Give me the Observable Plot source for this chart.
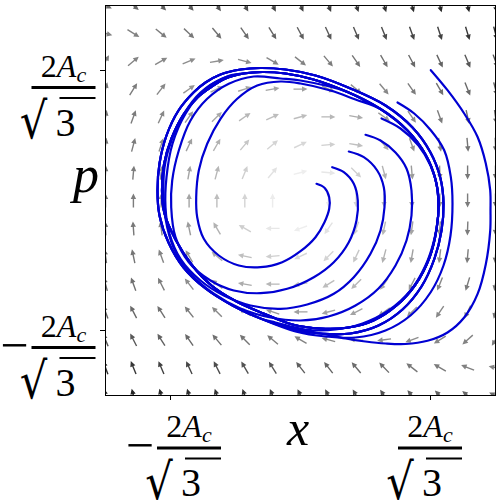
<!DOCTYPE html>
<html><head><meta charset="utf-8">
<script src="https://cdn.jsdelivr.net/npm/d3@7"></script>
<script src="https://cdn.jsdelivr.net/npm/@observablehq/plot@0.6"></script>
<style>body{margin:0;background:#fff} svg{display:block}</style>
</head><body><div id="chart"></div>
<script>
// Axis ticks (in units where the tick 2A_c/sqrt(3) sits at 1.3)
const xTicks = [-1.3, 1.3];
const pTicks = [-1.3, 1.3];
const xTickNeg = [true, false];

// Vector field grid
const gridX = [-1.95,-1.671,-1.393,-1.114,-0.836,-0.557,-0.279,0,0.279,0.557,0.836,1.114,1.393,1.671,1.95];
const gridP = [1.95,1.671,1.393,1.114,0.836,0.557,0.279,0,-0.279,-0.557,-0.836,-1.114,-1.393,-1.671,-1.95];

// Arrow directions (degrees clockwise from up), rows top -> bottom
const arrowAngle = [
  [115,130,135,140,145,150,152,155,157,160,162,163,165,166,167],
  [105,122,129,133,140,145,148,152,155,157,158,160,162,163,165],
  [30,50,60,67,80,105,120,128,140,145,150,152,155,157,160],
  [15,32,38,55,65,72,80,90,115,130,140,145,150,158,165],
  [10,20,25,35,45,55,65,75,90,100,125,145,160,168,172],
  [8,15,18,25,30,40,50,65,85,100,140,160,170,175,178],
  [3,5,8,10,15,22,40,75,95,135,165,175,178,180,180],
  [0,0,0,0,0,0,0,null,180,180,180,180,180,180,180],
  [358,356,352,348,330,300,270,250,215,200,192,188,185,182,181],
  [352,348,340,330,310,282,265,245,225,205,195,190,187,185,184],
  [345,340,333,322,308,280,270,260,238,225,215,207,202,197,190],
  [340,333,327,322,315,302,288,270,255,243,235,225,214,206,195],
  [338,333,328,325,320,315,310,300,285,275,262,250,238,228,212],
  [340,338,337,335,333,330,328,322,322,320,316,308,300,292,282],
  [347,346,345,343,342,340,337,335,332,330,325,320,315,310,295]
];
// Arrow shade (relative field strength), rows top -> bottom
const arrowShade = [
  [0.62,0.64,0.66,0.68,0.72,0.74,0.77,0.80,0.82,0.84,0.86,0.88,0.90,0.92,0.92],
  [0.52,0.53,0.55,0.57,0.60,0.62,0.65,0.68,0.70,0.72,0.75,0.78,0.80,0.84,0.87],
  [0.55,0.52,0.50,0.48,0.47,0.47,0.50,0.52,0.55,0.58,0.60,0.63,0.66,0.70,0.72],
  [0.58,0.55,0.50,0.45,0.40,0.38,0.38,0.40,0.43,0.47,0.50,0.55,0.60,0.63,0.66],
  [0.60,0.55,0.50,0.43,0.36,0.30,0.28,0.28,0.30,0.35,0.42,0.48,0.55,0.60,0.63],
  [0.60,0.55,0.48,0.40,0.32,0.24,0.18,0.17,0.20,0.27,0.35,0.45,0.52,0.58,0.62],
  [0.60,0.55,0.47,0.38,0.30,0.20,0.12,0.07,0.10,0.20,0.32,0.42,0.50,0.57,0.62],
  [0.60,0.55,0.47,0.38,0.28,0.18,0.08,0.00,0.08,0.18,0.28,0.38,0.47,0.55,0.60],
  [0.62,0.57,0.50,0.42,0.32,0.20,0.10,0.07,0.12,0.20,0.30,0.38,0.47,0.55,0.60],
  [0.62,0.58,0.52,0.45,0.35,0.27,0.20,0.17,0.18,0.24,0.32,0.40,0.48,0.55,0.60],
  [0.63,0.60,0.55,0.48,0.42,0.35,0.30,0.28,0.28,0.30,0.36,0.43,0.50,0.55,0.60],
  [0.66,0.63,0.60,0.55,0.50,0.47,0.43,0.40,0.38,0.38,0.40,0.45,0.50,0.55,0.58],
  [0.72,0.70,0.66,0.63,0.60,0.58,0.55,0.52,0.50,0.47,0.47,0.48,0.50,0.52,0.55],
  [0.87,0.84,0.80,0.78,0.75,0.72,0.70,0.68,0.65,0.62,0.60,0.57,0.55,0.53,0.52],
  [0.92,0.92,0.90,0.88,0.86,0.84,0.82,0.80,0.77,0.74,0.72,0.68,0.66,0.64,0.62]
];

// Limit-cycle band: inner and outer edge, clockwise from the upper left
const cycleInner = [[-0.90,1.13],[-0.75,1.22],[-0.57,1.27],[-0.38,1.285],[-0.15,1.27],[0.13,1.21],[0.47,1.085],[0.80,0.915],[1.07,0.70],[1.25,0.46],[1.35,0.21],[1.38,-0.03],[1.36,-0.29],[1.29,-0.57],[1.15,-0.84],[0.96,-1.05],[0.73,-1.20],[0.48,-1.27],[0.20,-1.28],[-0.08,-1.24],[-0.37,-1.13],[-0.64,-1.01],[-0.89,-0.85],[-1.09,-0.64],[-1.25,-0.39],[-1.36,-0.13],[-1.385,0.10],[-1.365,0.36],[-1.29,0.62],[-1.17,0.86],[-1.03,1.03]];
const cycleOuter = [[-0.95,1.18],[-0.80,1.26],[-0.60,1.31],[-0.40,1.325],[-0.15,1.31],[0.15,1.25],[0.50,1.12],[0.85,0.95],[1.12,0.73],[1.30,0.48],[1.40,0.22],[1.43,-0.03],[1.41,-0.30],[1.34,-0.58],[1.21,-0.86],[1.02,-1.09],[0.78,-1.25],[0.50,-1.33],[0.20,-1.33],[-0.10,-1.28],[-0.40,-1.18],[-0.68,-1.05],[-0.95,-0.88],[-1.17,-0.67],[-1.32,-0.42],[-1.41,-0.15],[-1.43,0.10],[-1.41,0.37],[-1.34,0.65],[-1.22,0.90],[-1.07,1.08]];

// Trajectories before they join the band: [x, p]
const traj1 = [[0.16,0.167],[0.24,0.127],[0.287,0.033],[0.287,-0.083],[0.24,-0.217],[0.15,-0.367],[0.0,-0.507],[-0.183,-0.617],[-0.40,-0.667],[-0.617,-0.65],[-0.817,-0.55],[-0.967,-0.383],[-1.033,-0.167],[-1.043,0.033],[-1.017,0.30],[-0.933,0.567],[-0.80,0.817],[-0.633,1.017],[-0.433,1.15],[-0.20,1.19],[0.0,1.17],[0.30,1.10],[0.55,1.01]];
const traj2 = [[0.317,0.333],[0.433,0.283],[0.533,0.167],[0.573,0.0],[0.56,-0.20],[0.483,-0.417],[0.333,-0.617],[0.133,-0.767],[-0.133,-0.883],[-0.40,-0.927],[-0.667,-0.90],[-0.90,-0.80],[-1.117,-0.617],[-1.25,-0.367],[-1.293,-0.067],[-1.283,0.20],[-1.217,0.50],[-1.10,0.80],[-0.933,1.017],[-0.717,1.167],[-0.467,1.24],[-0.20,1.22],[0.0,1.20]];
const traj3 = [[0.483,0.49],[0.633,0.433],[0.767,0.30],[0.833,0.133],[0.84,-0.067],[0.80,-0.30],[0.70,-0.533],[0.533,-0.767],[0.333,-0.933],[0.067,-1.04],[-0.20,-1.083],[-0.50,-1.05],[-0.767,-0.95],[-1.0,-0.80],[-1.20,-0.583],[-1.31,-0.333],[-1.35,-0.067],[-1.34,0.233],[-1.28,0.567],[-1.15,0.867],[-0.967,1.10],[-0.733,1.24]];
const traj4 = [[0.65,0.657],[0.80,0.60],[0.95,0.48],[1.06,0.32],[1.11,0.10],[1.11,-0.15],[1.06,-0.40],[0.95,-0.65],[0.78,-0.88],[0.55,-1.05],[0.28,-1.16],[0.0,-1.20],[-0.30,-1.17],[-0.60,-1.08],[-0.87,-0.93],[-1.10,-0.73],[-1.27,-0.47],[-1.35,-0.18],[-1.37,0.07],[-1.36,0.33],[-1.29,0.60],[-1.17,0.86],[-1.0,1.08],[-0.78,1.22]];
const traj5 = [[0.81,0.82],[1.0,0.72],[1.18,0.55],[1.30,0.35],[1.37,0.12],[1.38,-0.12],[1.34,-0.38],[1.25,-0.65],[1.10,-0.90],[0.88,-1.10],[0.62,-1.23],[0.35,-1.29],[0.05,-1.29],[-0.25,-1.22]];
const traj6 = [[0.97,0.98],[1.137,0.87],[1.303,0.703],[1.437,0.503],[1.503,0.237],[1.52,-0.03],[1.50,-0.35],[1.43,-0.65],[1.30,-0.92],[1.10,-1.15],[0.85,-1.30],[0.55,-1.37],[0.25,-1.36],[-0.05,-1.31]];
const traj7 = [[1.303,1.303],[1.47,1.103],[1.637,0.87],[1.77,0.637],[1.853,0.37],[1.897,0.103],[1.90,-0.10],[1.897,-0.303],[1.853,-0.637],[1.77,-0.937],[1.637,-1.17],[1.47,-1.32],[1.27,-1.403],[1.05,-1.435],[0.85,-1.43],[0.65,-1.41],[0.45,-1.38],[0.25,-1.34],[0.05,-1.30]];

// Which band edge each trajectory joins, and where
const joins = [
  [traj1, cycleInner, 7],
  [traj2, cycleInner, 6],
  [traj3, cycleInner, 2],
  [traj4, cycleInner, 2],
  [traj5, cycleOuter, 20],
  [traj6, cycleOuter, 20],
  [traj7, cycleOuter, 19]
];

// Build tables
const arrows = [];
gridP.forEach((p, i) => gridX.forEach((x, j) => {
  const a = arrowAngle[i][j];
  if (a != null) arrows.push({x, p, angle: a, shade: arrowShade[i][j]});
}));
const paths = [];
joins.forEach(([own, cyc, k], id) => {
  const pts = own.concat(cyc.slice(k), cyc.slice(0, k + 1));
  pts.forEach(([x, p]) => paths.push({id, x, p}));
});

const arrowShape = {
  draw(context, l) {
    const hw = 0.7, hl = 5.5, hh = 2.7;
    context.moveTo(-hw, 0);
    context.lineTo(-hw, -(l - hl));
    context.lineTo(-hh, -(l - hl));
    context.lineTo(0, -l);
    context.lineTo(hh, -(l - hl));
    context.lineTo(hw, -(l - hl));
    context.lineTo(hw, 0);
    context.closePath();
  }
};

const chart = Plot.plot({
  width: 500, height: 500,
  marginLeft: 105, marginRight: 5, marginTop: 5, marginBottom: 105,
  style: {background: "#fff"},
  x: {domain: [-1.95, 1.95], ticks: xTicks, tickSize: 5, tickFormat: () => "", label: null},
  y: {domain: [-1.95, 1.95], ticks: pTicks, tickSize: 5, tickFormat: () => "", label: null},
  opacity: {domain: [0, 1], range: [0, 1]},
  marks: [
    Plot.vector(arrows, {x: "x", y: "p", rotate: "angle", length: 14, anchor: "middle",
      shape: arrowShape, fill: "#111", stroke: "none", fillOpacity: "shade", clip: true}),
    Plot.line(paths, {x: "x", y: "p", z: "id", stroke: "#0000d2", strokeWidth: 2.2, curve: "catmull-rom"}),
    Plot.frame({stroke: "black", strokeWidth: 1})
  ]
});
document.getElementById("chart").appendChild(chart);

// Fraction tick labels  ±2A_c/√3
const FONT = "'Liberation Serif', 'DejaVu Serif', serif";
const RAD_FONT = "'DejaVu Serif', serif";
const sx = chart.scale("x"), sy = chart.scale("y");
const svg = d3.select(chart);
const g = svg.append("g").attr("font-family", FONT).attr("fill", "black");

// Ink bounds of the radical glyph, so it can be fitted to the vinculum
const RAD_SIZE = 40;
const ctx = document.createElement("canvas").getContext("2d");
ctx.font = `${RAD_SIZE}px ${RAD_FONT}`;
const rm = ctx.measureText("√");
const radInk = {
  left: rm.actualBoundingBoxLeft, right: rm.actualBoundingBoxRight,
  ascent: rm.actualBoundingBoxAscent, descent: rm.actualBoundingBoxDescent
};

function frac(cx, barY, neg) {
  const num = g.append("text").attr("x", cx).attr("y", barY - 11).attr("text-anchor", "middle").attr("font-size", 32);
  num.append("tspan").text("2");
  num.append("tspan").attr("font-style", "italic").text("A");
  num.append("tspan").attr("font-style", "italic").attr("font-size", 22).attr("dy", 5).text("c");
  g.append("line").attr("x1", cx - 32).attr("x2", cx + 32).attr("y1", barY).attr("y2", barY).attr("stroke", "black").attr("stroke-width", 3);
  // radical: fit ink box to [cx-29, cx-2] x [barY+9.5, barY+52]
  const L = cx - 29, R = cx - 2, T = barY + 9.5, B = barY + 52;
  const w = radInk.left + radInk.right, h = radInk.ascent + radInk.descent;
  const ksx = (R - L) / w, ksy = (B - T) / h;
  const tx = L + radInk.left * ksx, ty = T + radInk.ascent * ksy;
  g.append("text").attr("font-family", RAD_FONT).attr("transform", `translate(${tx},${ty}) scale(${ksx},${ksy})`).attr("font-size", RAD_SIZE).text("√");
  g.append("text").attr("x", cx + 2).attr("y", barY + 48).attr("font-size", 40).text("3");
  g.append("line").attr("x1", cx - 4).attr("x2", cx + 32).attr("y1", barY + 10.5).attr("y2", barY + 10.5).attr("stroke", "black").attr("stroke-width", 2.2);
  if (neg) g.append("text").attr("x", cx - 35).attr("y", barY + 14).attr("text-anchor", "end").attr("font-size", 50).text("−");
}
const bottom = sy.apply(-1.95);
xTicks.forEach((t, i) => frac(sx.apply(t) + (xTickNeg[i] ? 19 : 0), bottom + 53, xTickNeg[i]));
pTicks.forEach((t, i) => frac(63.5, sy.apply(t) + 17.5, t < 0));
// Axis names
g.append("text").attr("x", sx.apply(0) - 2).attr("y", bottom + 50).attr("text-anchor", "middle").attr("font-size", 50).attr("font-style", "italic").text("x");
g.append("text").attr("x", 86).attr("y", sy.apply(0) - 8).attr("text-anchor", "middle").attr("font-size", 52).attr("font-style", "italic").text("p");
</script>
</body></html>
